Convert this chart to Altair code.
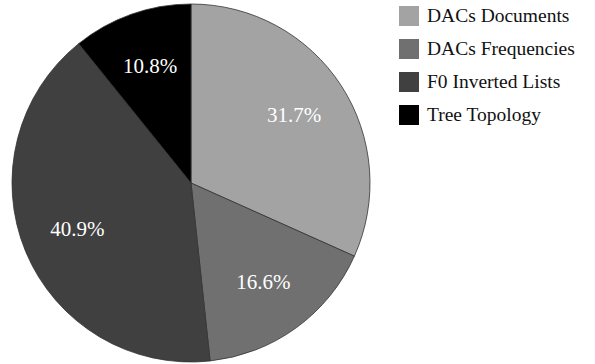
import altair as alt
import pandas as pd

categories = ["DACs Documents", "DACs Frequencies", "F0 Inverted Lists", "Tree Topology"]
values = [31.7, 16.6, 40.9, 10.8]
labels = ["31.7%", "16.6%", "40.9%", "10.8%"]
colors = ["#a3a3a3", "#707070", "#404040", "#000000"]

df = pd.DataFrame({"cat": categories, "val": values, "lab": labels, "idx": list(range(len(values)))})

CX, CY, R = 191, 183, 179
SERIF = "Liberation Serif"

base = alt.Chart(df).encode(
    theta=alt.Theta("val:Q", stack=True),
    order=alt.Order("idx:Q", sort="ascending"),
)

arcs = base.mark_arc(x=CX, y=CY, outerRadius=R, stroke="#333333", strokeWidth=0.8).encode(
    color=alt.Color(
        "cat:N",
        scale=alt.Scale(domain=categories, range=colors),
        legend=alt.Legend(
            title=None,
            orient="none",
            legendX=399,
            legendY=6,
            padding=0,
            symbolType="square",
            symbolSize=400,
            symbolStrokeWidth=0,
            symbolOpacity=1,
            labelOffset=8,
            rowPadding=13,
            labelLimit=300,
            labelFont=SERIF,
            labelFontSize=19.5,
            labelColor="#111111",
        ),
    )
)

text = base.mark_text(
    x=CX, y=CY, radius=123, font=SERIF, fontSize=21, color="white",
    align="center", baseline="middle",
).encode(text="lab:N")

chart = (arcs + text).properties(
    width=595, height=364, padding=0, autosize=alt.AutoSizeParams(type="none")
).configure_view(stroke=None)

chart.save("out.html", embed_options={"renderer": "svg", "actions": False})
